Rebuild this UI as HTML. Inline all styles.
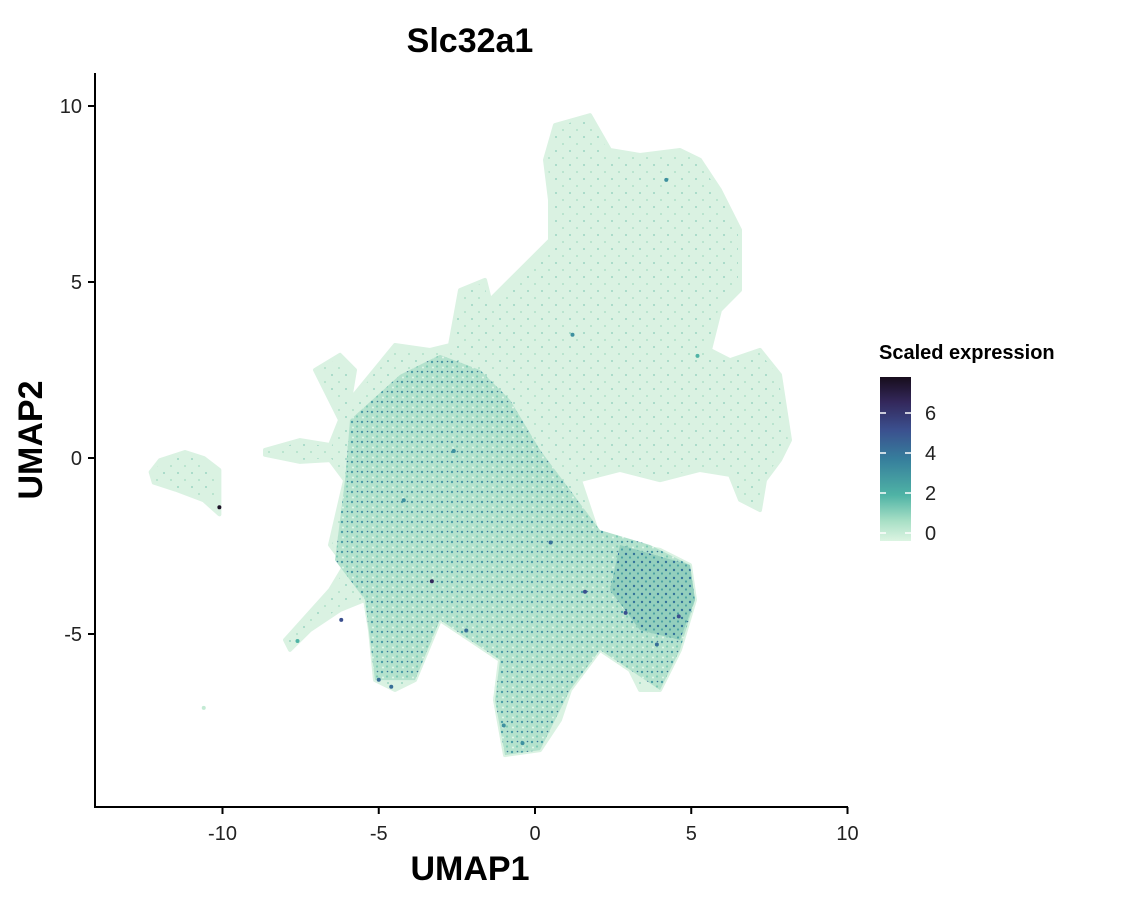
<!DOCTYPE html>
<html>
<head>
<meta charset="utf-8">
<style>
  html, body { margin: 0; padding: 0; background: #fff; }
  body { width: 1126px; height: 896px; overflow: hidden; font-family: "Liberation Sans", sans-serif; }
  svg text { font-family: "Liberation Sans", sans-serif; }
</style>
</head>
<body>
<svg id="chart" width="1126" height="896" viewBox="0 0 1126 896" xmlns="http://www.w3.org/2000/svg">
  <defs>
    <pattern id="lowDots" width="10" height="10" patternUnits="userSpaceOnUse">
      <rect width="10" height="10" fill="#b4e2cd"/>
      <circle cx="2" cy="2" r="1.2" fill="#4a9ea6"/>
      <circle cx="7" cy="6.5" r="1.1" fill="#7cc9b4"/>
      <circle cx="7.5" cy="1.5" r="0.8" fill="#35709a"/>
      <circle cx="3" cy="7.5" r="1" fill="#e4f5ea"/>
    </pattern>
    <pattern id="denseDots" width="8" height="8" patternUnits="userSpaceOnUse">
      <rect width="8" height="8" fill="#93cfbd"/>
      <circle cx="2" cy="2" r="1.2" fill="#33739a"/>
      <circle cx="6" cy="5.5" r="1.1" fill="#4aa0a4"/>
    </pattern>
    <pattern id="upDots" width="14" height="14" patternUnits="userSpaceOnUse">
      <rect width="14" height="14" fill="#daf2e2"/>
      <circle cx="3" cy="4" r="1" fill="#b0e0c9"/>
      <circle cx="10" cy="11" r="0.9" fill="#8acdb9"/>
    </pattern>
    <linearGradient id="cbar" x1="0" y1="1" x2="0" y2="0">
      <stop offset="0" stop-color="#dcf4e2"/>
      <stop offset="0.12" stop-color="#a9e0c6"/>
      <stop offset="0.28" stop-color="#4fb3a5"/>
      <stop offset="0.5" stop-color="#367e9c"/>
      <stop offset="0.68" stop-color="#3b4f8e"/>
      <stop offset="0.85" stop-color="#33275a"/>
      <stop offset="1" stop-color="#170d1c"/>
    </linearGradient>
  </defs>
  <g id="plot"></g>
  <g id="axes"></g>
  <text x="470" y="52" text-anchor="middle" font-size="34" font-weight="bold" fill="#000">Slc32a1</text>
  <text x="470" y="880" text-anchor="middle" font-size="34" font-weight="bold" fill="#000">UMAP1</text>
  <text transform="translate(42,440) rotate(-90)" text-anchor="middle" font-size="34" font-weight="bold" fill="#000">UMAP2</text>
  <g id="legend">
    <text x="879" y="359" font-size="20" font-weight="bold" fill="#000">Scaled expression</text>
    <rect x="880" y="377" width="31" height="164" fill="url(#cbar)"/>
  </g>
</svg>
<script>
const xTicks = [-10, -5, 0, 5, 10];
const yTicks = [-5, 0, 5, 10];
const legendTicks = [0, 2, 4, 6];
// outline of main cell cloud (UMAP1, UMAP2)
const mainCloudX = [-8.64,-7.52,-6.56,-6.24,-7.04,-6.24,-5.76,-5.92,-4.48,-3.36,-2.72,-2.4,-1.6,-1.44,-0.48,0.48,0.48,0.32,0.64,1.76,2.4,3.36,4.64,5.28,5.92,6.56,6.56,5.92,5.6,6.24,7.2,7.84,8.16,7.84,7.36,7.2,6.56,6.24,5.28,4.0,2.72,1.44,2.08,4.0,4.96,5.12,4.64,4.0,3.36,3.04,2.08,1.12,0.8,0.16,-0.96,-1.28,-1.12,-2.08,-3.04,-3.84,-4.48,-5.12,-5.28,-5.44,-6.24,-7.2,-7.84,-8.0,-6.56,-6.08,-6.56,-6.08,-6.56,-7.52,-8.64];
const mainCloudY = [0.23,0.51,0.37,1.08,2.5,2.93,2.5,1.65,3.21,3.07,3.21,4.77,5.06,4.49,5.34,6.19,7.33,8.47,9.46,9.74,8.75,8.61,8.75,8.47,7.61,6.48,4.77,4.2,3.07,2.78,3.07,2.36,0.51,-0.06,-0.63,-1.48,-1.19,-0.48,-0.34,-0.63,-0.34,-0.63,-2.33,-2.61,-3.04,-4.03,-5.45,-6.59,-6.59,-6.02,-5.45,-6.59,-7.44,-8.3,-8.44,-6.88,-5.74,-5.17,-4.6,-6.31,-6.59,-6.31,-4.89,-4.03,-4.32,-4.89,-5.45,-5.17,-3.75,-3.04,-2.47,-0.63,-0.06,-0.11,0.09];
// left isolated cluster
const leftClusterX = [-12.3,-12.0,-11.2,-10.6,-10.1,-10.1,-10.6,-11.5,-12.2];
const leftClusterY = [-0.4,-0.06,0.17,0.0,-0.34,-1.6,-1.2,-0.9,-0.7];
// higher-expression lower region
const lowRegionX = [-5.92,-4.32,-3.04,-1.76,-0.8,0.16,1.12,2.08,3.68,4.96,5.12,4.64,4.0,3.04,2.08,1.12,0.16,-0.96,-1.28,-1.12,-3.04,-3.84,-5.12,-5.44,-6.4,-6.08];
const lowRegionY = [1.08,2.36,2.93,2.5,1.65,0.23,-0.91,-2.05,-2.47,-3.04,-4.03,-5.45,-6.59,-6.02,-5.45,-6.59,-8.3,-8.44,-6.88,-5.74,-4.6,-6.31,-6.31,-4.03,-2.9,-0.63];
// dense high patch on right
const densePatchX = [2.72,4.96,5.12,4.64,3.36,2.4];
const densePatchY = [-2.47,-3.04,-4.03,-5.17,-4.89,-3.75];
// notable individual cells
const cellX = [-10.1,-10.6,-6.2,-5.0,-3.3,-2.2,-1.0,1.6,3.9,4.6,-4.2,-2.6,0.5,2.9,-0.4,-4.6,1.2,4.2,5.2,-7.6];
const cellY = [-1.4,-7.1,-4.6,-6.3,-3.5,-4.9,-7.6,-3.8,-5.3,-4.5,-1.2,0.2,-2.4,-4.4,-8.1,-6.5,3.5,7.9,2.9,-5.2];
const cellExpr = [7,0.5,5,4,6,4,3,5,4,5,3,3,4,5,3,4,3,3,2,2];

const NS = "http://www.w3.org/2000/svg";
const sx = v => 535 + v * 31.25;
const sy = v => 458 - v * 35.2;
const ly = v => 533 - v * 20;
function colorFor(v){
  const stops=[[0,[220,244,226]],[1,[169,224,198]],[2,[79,179,165]],[3.5,[54,126,156]],[5,[59,79,142]],[6,[51,39,90]],[7.2,[23,13,28]]];
  for(let i=1;i<stops.length;i++){ if(v<=stops[i][0]){const a=stops[i-1],b=stops[i];const t=(v-a[0])/(b[0]-a[0]);
    return 'rgb('+a[1].map((c,k)=>Math.round(c+(b[1][k]-c)*t)).join(',')+')';}}
  return 'rgb(23,13,28)';
}
function poly(xs, ys, fill, name){
  const p=document.createElementNS(NS,'polygon');
  p.setAttribute('points', xs.map((x,i)=>sx(x)+','+sy(ys[i])).join(' '));
  p.setAttribute('fill', fill);
  p.setAttribute('stroke', fill==='url(#upDots)'?'#daf2e2':'none');
  p.setAttribute('stroke-width','4');
  p.setAttribute('stroke-linejoin','round');
  
  
  document.getElementById('plot').appendChild(p);
}
poly(leftClusterX, leftClusterY, 'url(#upDots)', 'left-cluster');
poly(mainCloudX, mainCloudY, 'url(#upDots)', 'main-cell-cloud');
poly(lowRegionX, lowRegionY, 'url(#lowDots)', 'expressing-region');
poly(densePatchX, densePatchY, 'url(#denseDots)', 'dense-expressing-patch');
const plot=document.getElementById('plot');
cellX.forEach((x,i)=>{
  const c=document.createElementNS(NS,'circle');
  c.setAttribute('cx',sx(x)); c.setAttribute('cy',sy(cellY[i])); c.setAttribute('r',2);
  c.setAttribute('fill',colorFor(cellExpr[i]));
  
  
  plot.appendChild(c);
});
const axes=document.getElementById('axes');
function line(x1,y1,x2,y2,name,col,w){
  const l=document.createElementNS(NS,'line');
  l.setAttribute('x1',x1);l.setAttribute('y1',y1);l.setAttribute('x2',x2);l.setAttribute('y2',y2);
  l.setAttribute('stroke',col||'#000');l.setAttribute('stroke-width',w||2);
  
  
  return l;
}
function txt(x,y,s,anchor,name,parent){
  const t=document.createElementNS(NS,'text');
  t.setAttribute('x',x);t.setAttribute('y',y);t.setAttribute('text-anchor',anchor);
  t.setAttribute('font-size','20');t.setAttribute('fill','#222');t.textContent=s;
  
  
  parent.appendChild(t);
}
axes.appendChild(line(95,73,95,808,'y-axis-line'));
axes.appendChild(line(94,807,848,807,'x-axis-line'));
xTicks.forEach(v=>{
  axes.appendChild(line(sx(v),807,sx(v),814,'x-tick'));
  txt(sx(v),840,String(v),'middle','x-tick-label',axes);
});
yTicks.forEach(v=>{
  axes.appendChild(line(88,sy(v),95,sy(v),'y-tick'));
  txt(82,sy(v)+7,String(v),'end','y-tick-label',axes);
});
const legend=document.getElementById('legend');
legendTicks.forEach(v=>{
  legend.appendChild(line(880,ly(v),886,ly(v),'colorbar-tick','#fff',1.5));
  legend.appendChild(line(905,ly(v),911,ly(v),'colorbar-tick','#fff',1.5));
  txt(925,ly(v)+7,String(v),'start','colorbar-tick-label',legend);
});
</script>
</body>
</html>
